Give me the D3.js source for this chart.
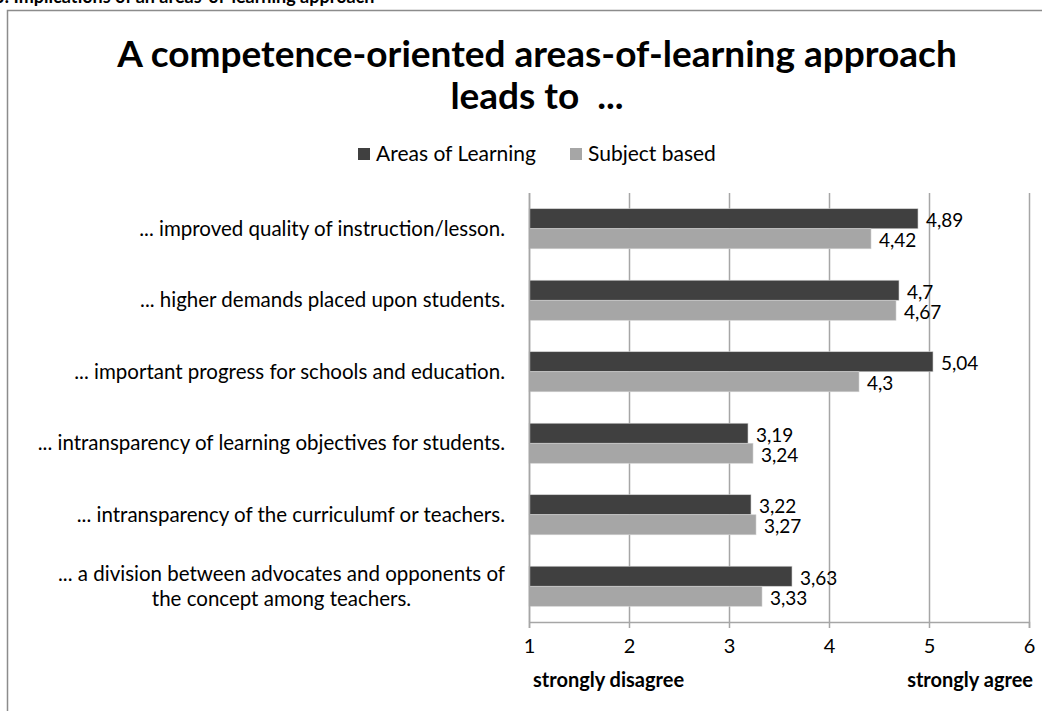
<!DOCTYPE html>
<html>
<head>
<meta charset="utf-8">
<script src="https://cdn.jsdelivr.net/npm/d3@7"></script>
<style>
  body { margin: 0; background: #fff; }
  text { font-family: Lato, "Open Sans", sans-serif; fill: #000; }
</style>
</head>
<body>
<div id="chart"></div>
<script>
// chart data
var categories = [
  "... improved quality of instruction/lesson.",
  "... higher demands placed upon students.",
  "... important progress for schools and education.",
  "... intransparency of learning objectives for students.",
  "... intransparency of the curriculumf or teachers.",
  "... a division between advocates and opponents of\nthe concept among teachers."
];
var seriesNames = ["Areas of Learning", "Subject based"];
var areasValues = [4.89, 4.7, 5.04, 3.19, 3.22, 3.63];
var subjectValues = [4.42, 4.67, 4.3, 3.24, 3.27, 3.33];
var xTicks = [1, 2, 3, 4, 5, 6];
var scaleEnds = ["strongly disagree", "strongly agree"];
var titleLines = ["A competence-oriented areas-of-learning approach", "leads to  ..."];
var captionText = "3: Implications of an areas-of-learning approach";

var colors = ["#404040", "#a6a6a6"];

//SVG size
var svgWidth = 1042;
var svgHeight = 711;

//plot area (absolute)
var plot = { left: 529, right: 1029, top: 193, bottom: 622 };

var svg = d3.select("#chart")
  .append("svg")
  .attr("width", svgWidth)
  .attr("height", svgHeight);

svg.append("rect")
  .attr("width", svgWidth)
  .attr("height", svgHeight)
  .attr("fill", "#fff");

//cut-off caption at the very top
svg.append("text")
  .attr("x", -6)
  .attr("y", 3)
  .attr("font-size", 18)
  .attr("font-weight", "bold")
  .text(captionText);

//chart border (only top and left visible)
svg.append("path")
  .attr("d", "M7.5," + (svgHeight + 2) + "V10.5H" + (svgWidth + 2))
  .attr("fill", "none")
  .attr("stroke", "#8c8c8c")
  .attr("stroke-width", 1.5);

//title
svg.selectAll(".title")
  .data(titleLines)
  .enter().append("text")
  .attr("class", "title")
  .attr("x", 537)
  .attr("y", (d, i) => 67 + i * 42)
  .attr("text-anchor", "middle")
  .attr("font-size", 37)
  .attr("font-weight", "bold")
  .style("white-space", "pre")
  .text(d => d);

//legend
var legendX = [358, 570];
var legend = svg.selectAll(".legend")
  .data(seriesNames)
  .enter().append("g")
  .attr("class", "legend")
  .attr("transform", (d, i) => `translate(${legendX[i]}, 154)`);
legend.append("rect")
  .attr("x", 0).attr("y", -6)
  .attr("width", 12).attr("height", 12)
  .attr("fill", (d, i) => colors[i]);
legend.append("text")
  .attr("x", 18)
  .attr("dy", "0.35em")
  .attr("font-size", 21)
  .text(d => d);

//scales
var xScale = d3.scaleLinear()
  .domain([1, 6])
  .range([plot.left, plot.right]);

var yScale = d3.scaleBand()
  .domain(categories)
  .range([plot.top, plot.bottom])
  .paddingInner(0.44)
  .paddingOuter(0.22);

var ySub = d3.scaleBand()
  .domain(seriesNames)
  .range([0, yScale.bandwidth()]);

//grid lines
svg.append("g")
  .selectAll("line")
  .data(xTicks)
  .enter().append("line")
  .attr("x1", d => xScale(d) + 0.5)
  .attr("x2", d => xScale(d) + 0.5)
  .attr("y1", plot.top)
  .attr("y2", plot.bottom)
  .attr("stroke", "#a6a6a6")
  .attr("stroke-width", 1.5);

//bars
var series = [areasValues, subjectValues];
series.forEach(function(values, s) {
  var g = svg.append("g");
  g.selectAll("rect")
    .data(values)
    .enter().append("rect")
    .attr("x", xScale(1))
    .attr("y", (d, i) => yScale(categories[i]) + ySub(seriesNames[s]))
    .attr("width", d => xScale(d) - xScale(1))
    .attr("height", ySub.bandwidth())
    .attr("fill", colors[s])
    .attr("stroke", "#d0d0d0")
    .attr("stroke-width", 0.6);
  g.selectAll("text")
    .data(values)
    .enter().append("text")
    .attr("x", d => xScale(d) + 8)
    .attr("y", (d, i) => yScale(categories[i]) + ySub(seriesNames[s]) + ySub.bandwidth() / 2 + 2)
    .attr("dy", "0.35em")
    .attr("font-size", 19)
    .attr("fill", "#222")
    .text(d => String(d).replace(".", ","));
});

//bottom axis
var bottomAxis = d3.axisBottom(xScale)
  .tickValues(xTicks)
  .tickFormat(d3.format("d"))
  .tickSize(6)
  .tickPadding(11);
var axisG = svg.append("g")
  .attr("transform", `translate(0, ${plot.bottom})`)
  .call(bottomAxis);
axisG.select(".domain").attr("stroke", "#a6a6a6").attr("stroke-width", 1.5);
axisG.selectAll(".tick line").attr("stroke", "#a6a6a6").attr("stroke-width", 1.5);
axisG.selectAll(".tick text")
  .attr("font-size", 20)
  .attr("font-family", "Lato, sans-serif")
  .attr("fill", "#222");

//left axis line
svg.append("line")
  .attr("x1", xScale(1) + 0.5).attr("x2", xScale(1) + 0.5)
  .attr("y1", plot.top).attr("y2", plot.bottom)
  .attr("stroke", "#a6a6a6").attr("stroke-width", 1.5);

//scale end labels
svg.append("text")
  .attr("x", 533).attr("y", 687)
  .attr("font-size", 20).attr("font-weight", "bold")
  .text(scaleEnds[0]);
svg.append("text")
  .attr("x", 1033).attr("y", 687)
  .attr("text-anchor", "end")
  .attr("font-size", 20).attr("font-weight", "bold")
  .text(scaleEnds[1]);

//category labels
var catG = svg.append("g");
categories.forEach(function(c) {
  var lines = c.split("\n");
  var cy = yScale(c) + yScale.bandwidth() / 2;
  var t = catG.append("text")
    .attr("font-size", 20.5)
    .attr("text-anchor", lines.length > 1 ? "middle" : "end");
  lines.forEach(function(l, j) {
    t.append("tspan")
      .attr("x", 505)
      .attr("y", cy + (j - (lines.length - 1) / 2) * 25)
      .attr("dy", "0.35em")
      .text(l);
  });
  if (lines.length > 1) {
    //centre the block so its widest line ends at the same right edge
    var w = d3.max(t.selectAll("tspan").nodes(), n => n.getComputedTextLength());
    t.selectAll("tspan").attr("x", 505 - w / 2);
  }
});
</script>
</body>
</html>
